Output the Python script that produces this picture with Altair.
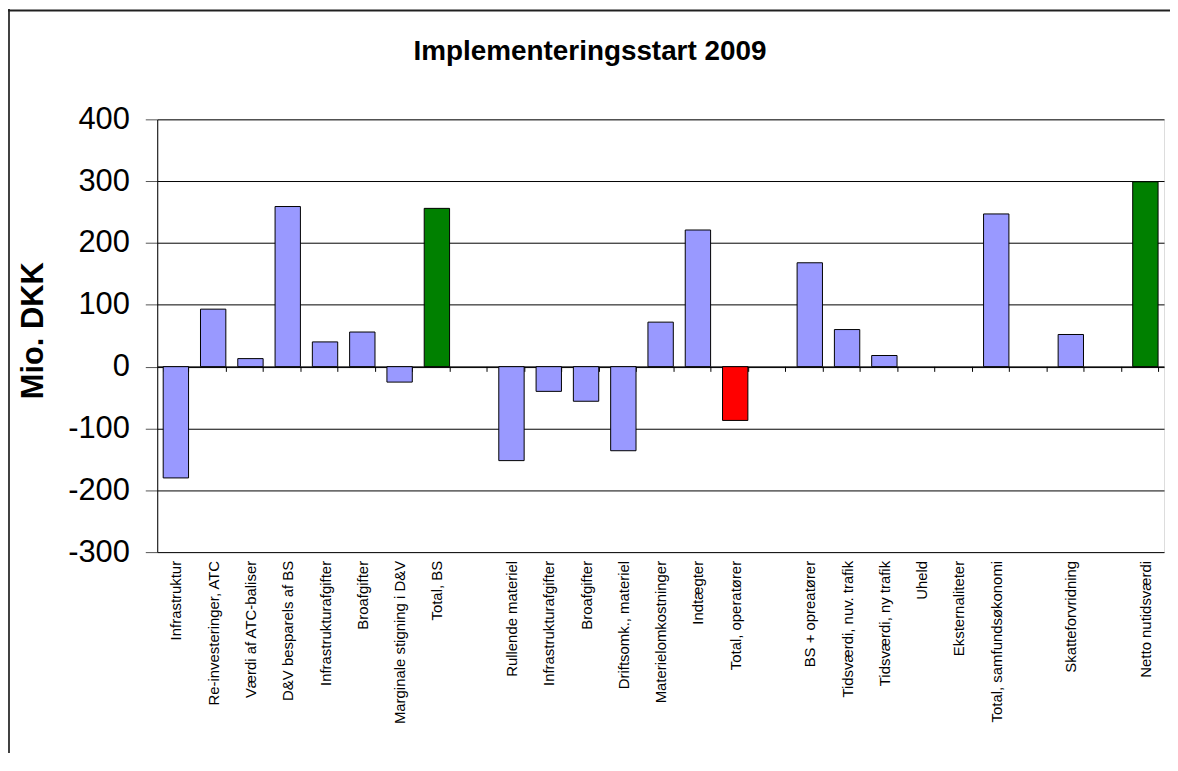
import json
import altair as alt
import pandas as pd

# ---- data ----
categories = [
    "Infrastruktur", "Re-investeringer, ATC", "Værdi af  ATC-baliser", "D&V besparels af BS",
    "Infrastrukturafgifter", "Broafgifter", "Marginale stigning i D&V", "Total, BS",
    "",
    "Rullende materiel", "Infrastrukturafgifter", "Broafgifter", "Driftsomk., materiel",
    "Materielomkostninger", "Indtægter", "Total, operatører",
    "",
    "BS + opreatører", "Tidsværdi, nuv.  trafik", "Tidsværdi, ny trafik", "Uheld",
    "Eksternaliteter", "Total, samfundsøkonomi",
    "",
    "Skatteforvridning",
    "",
    "Netto nutidsværdi",
]
values = [
    -180, 93, 13, 259, 40, 56, -25, 256,
    None,
    -152, -40, -56, -136, 72, 221, -87,
    None,
    168, 60, 18, 0, 0, 247,
    None,
    52,
    None,
    299,
]
kinds = [
    "post", "post", "post", "post", "post", "post", "post", "total_pos",
    None,
    "post", "post", "post", "post", "post", "post", "total_neg",
    None,
    "post", "post", "post", "post", "post", "post",
    None,
    "post",
    None,
    "total_pos",
]
title_text = "Implementeringsstart 2009"
y_ticks = [-300, -200, -100, 0, 100, 200, 300, 400]
kind_names = ["post", "total_pos", "total_neg"]
kind_colors = ["#9999FF", "#008000", "#FF0000"]

slots = list(range(len(categories)))
df = pd.DataFrame({"idx": slots, "label": categories, "value": values, "kind": kinds})
bars_df = df[df["value"].notna() & (df["value"] != 0)].copy()

label_expr = json.dumps(categories, ensure_ascii=False) + "[datum.value]"

FONT = "Liberation Sans"
W, H = 1012, 435
PAD_L, PAD_T = 150, 110

x_enc = alt.X(
    "idx:O",
    scale=alt.Scale(domain=slots, paddingInner=0.32, paddingOuter=0.16),
    axis=alt.Axis(
        title=None,
        orient="bottom",
        offset=-(H - 248.3),
        labelExpr=label_expr,
        labelAngle=270,
        labelAlign="right",
        labelBaseline="middle",
        labelFont=FONT,
        labelFontSize=15,
        labelColor="#000000",
        labelPadding=190,
        labelOverlap=False,
        labelLimit=400,
        tickBand="extent",
        tickSize=5,
        tickColor="#000000",
        domainColor="#000000",
        domainWidth=1,
        grid=False,
    ),
)

y_enc = alt.Y(
    "value:Q",
    scale=alt.Scale(domain=[-300, 400], nice=False, zero=False),
    axis=alt.Axis(
        title="Mio. DKK",
        values=y_ticks,
        labelExpr="replace(datum.label, '\u2212', '-')",
        labelFont=FONT,
        labelFontSize=31,
        labelColor="#000000",
        labelPadding=16,
        tickSize=12,
        tickColor="#555555",
        domainColor="#000000",
        grid=True,
        gridColor="#000000",
        gridWidth=1,
        titleFont=FONT,
        titleFontSize=31,
        titleFontWeight="bold",
        titleColor="#000000",
        titleAngle=270,
        titleAlign="center",
        titleBaseline="alphabetic",
        titleX=-115,
        titleY=212,
    ),
)

bars = alt.Chart(bars_df).mark_bar(stroke="#000000", strokeWidth=1).encode(
    x=x_enc,
    y=y_enc,
    color=alt.Color("kind:N", scale=alt.Scale(domain=kind_names, range=kind_colors), legend=None),
)

one = pd.DataFrame({"f": [0]})
frame_left = alt.Chart(one).mark_rule(color="#404040", strokeWidth=2).encode(
    x=alt.value(-149), y=alt.value(-111), y2=alt.value(H + 205)
)
frame_top = alt.Chart(one).mark_rule(color="#202020", strokeWidth=2).encode(
    x=alt.value(-150), x2=alt.value(W + 6), y=alt.value(-109.5)
)
title = alt.Chart(one).mark_text(
    font=FONT, fontSize=28, fontWeight="bold", color="#000000",
    align="center", baseline="alphabetic",
).encode(x=alt.value(435), y=alt.value(-60), text=alt.value(title_text))

chart = (
    alt.layer(bars, frame_left, frame_top, title)
    .properties(
        width=W,
        height=H,
        autosize=alt.AutoSizeParams(type="none"),
        padding={"left": PAD_L, "top": PAD_T, "right": 6, "bottom": 200},
    )
    .configure_view(stroke="#808080", strokeWidth=1)
    .configure(background="#FFFFFF")
)

chart.save("out.html", embed_options={"renderer": "svg", "actions": False})
